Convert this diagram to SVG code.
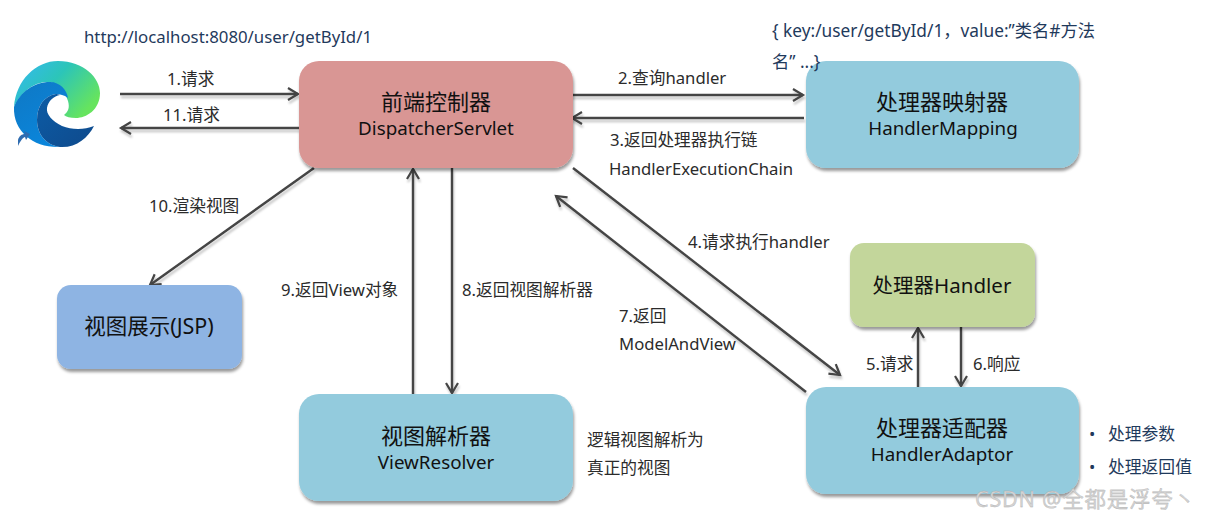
<svg xmlns="http://www.w3.org/2000/svg" width="1210" height="519" viewBox="0 0 1210 519">
<style>
text{font-family:"Noto Sans","Noto Sans CJK SC",sans-serif;fill:#222}
.l{font-size:16.7px;fill:#2b2b2b}
.blue{font-size:16.8px;fill:#1f3a5c}
.key{font-size:17.3px;fill:#1f3a5c}
.t{font-size:22px;text-anchor:middle;fill:#111}
.s{font-size:18.8px;text-anchor:middle;fill:#111}
.box{filter:url(#sh)}
.c{fill:none;stroke:#444;stroke-width:2.4;marker-end:url(#a);filter:url(#ls)}
</style>
<defs>
<filter id="sh" x="-10%" y="-10%" width="120%" height="125%"><feDropShadow dx="1" dy="3" stdDeviation="1.8" flood-color="#000" flood-opacity=".4"/></filter>
<filter id="ls" x="-20%" y="-20%" width="140%" height="140%" filterUnits="userSpaceOnUse" primitiveUnits="userSpaceOnUse"><feDropShadow dx="1" dy="3" stdDeviation="1.2" flood-color="#000" flood-opacity=".22"/></filter>
<marker id="a" markerUnits="userSpaceOnUse" markerWidth="14" markerHeight="16" refX="11" refY="7" orient="auto"><path d="M1 1L11 7L1 13" fill="none" stroke="#444" stroke-width="2.2"/></marker>
<linearGradient id="e1" x1="0" y1="0" x2="1" y2=".6"><stop offset="0" stop-color="#35b8f5"/><stop offset=".5" stop-color="#2cc5b8"/><stop offset="1" stop-color="#66e45e"/></linearGradient>
<linearGradient id="e2" x1="0" y1="0" x2=".6" y2="1"><stop offset="0" stop-color="#0f78c4"/><stop offset="1" stop-color="#0a86dc"/></linearGradient>
<linearGradient id="e3" x1="0" y1="0" x2="1" y2="1"><stop offset="0" stop-color="#0c5ca6"/><stop offset="1" stop-color="#0f4a8c"/></linearGradient>
</defs>
<g id="browser">
<path d="M14 107C16 80 36 61 58 61C84 61 100 78 100 93C100 110 86 118 76 118C70 118 66 117 64 115C68 112 70 108 68 101C65 92 58 82 48 82C32 82 20 94 14 107Z" fill="url(#e1)"/>
<path d="M14 107C20 92 34 82 50 82C60 82 67 90 68 98C64 95 60 94 56 94C44 96 37 106 37 120C37 134 46 145 60 147C34 148 13 132 14 107Z" fill="url(#e2)"/>
<path d="M56 94C44 96 37 106 37 120C37 134 46 145 60 147C76 148 88 138 94 126C84 130 72 130 62 126C52 121 46 114 47 108C48 101 54 96 60 95C58 94 57 94 56 94Z" fill="url(#e3)"/>
<path d="M18 146L18 140C19 136 22 134 25 134L24 131L30 134L26 140L25 137C22 138 20 142 18 146Z" fill="#2f6cb0"/>
</g>
<g id="connectors">
<path class="c" d="M120 94H298"/>
<path class="c" d="M299 128H121"/>
<path class="c" d="M571 95H803"/>
<path class="c" d="M804 118H572"/>
<path class="c" d="M314 168L150 285"/>
<path class="c" d="M413 394V169"/>
<path class="c" d="M452 168V393"/>
<path class="c" d="M573 168L840 375"/>
<path class="c" d="M806 392L556 196"/>
<path class="c" d="M918 387V328"/>
<path class="c" d="M961 327V386"/>
</g>
<g id="dispatcher"><rect class="box" x="299" y="61" width="274" height="107" rx="20" fill="#d99694"/><text class="t" x="436" y="110">前端控制器</text><text class="s" x="436" y="135">DispatcherServlet</text></g>
<g id="mapping"><rect class="box" x="806" y="61" width="273" height="107" rx="20" fill="#93cbdd"/><text class="t" x="942" y="110">处理器映射器</text><text class="s" x="943" y="135">HandlerMapping</text></g>
<g id="handler"><rect class="box" x="850" y="243" width="185" height="84" rx="14" fill="#c3d69b"/><text class="t" x="942" y="293" style="font-size:20.5px">处理器Handler</text></g>
<g id="adaptor"><rect class="box" x="806" y="387" width="273" height="107" rx="20" fill="#93cbdd"/><text class="t" x="942" y="436">处理器适配器</text><text class="s" x="942" y="461">HandlerAdaptor</text></g>
<g id="resolver"><rect class="box" x="299" y="394" width="274" height="107" rx="20" fill="#93cbdd"/><text class="t" x="436" y="444">视图解析器</text><text class="s" x="436" y="469">ViewResolver</text></g>
<g id="view"><rect class="box" x="57" y="285" width="185" height="84" rx="14" fill="#8eb4e3"/><text class="t" x="149" y="334" style="font-size:21.5px">视图展示(JSP)</text></g>
<g id="labels">
<text class="blue" x="84" y="43">http://localhost:8080/user/getById/1</text>
<text class="key" x="772" y="37">{ key:/user/getById/1，value:”类名#方法</text>
<text class="key" x="772" y="68">名” ...}</text>
<text class="l" x="167" y="85">1.请求</text>
<text class="l" x="163" y="121">11.请求</text>
<text class="l" x="618" y="84">2.查询handler</text>
<text class="l" x="610" y="146">3.返回处理器执行链</text>
<text class="l" x="609" y="175">HandlerExecutionChain</text>
<text class="l" x="149" y="212">10.渲染视图</text>
<text class="l" x="688" y="248">4.请求执行handler</text>
<text class="l" x="281" y="296">9.返回View对象</text>
<text class="l" x="462" y="296">8.返回视图解析器</text>
<text class="l" x="619" y="322">7.返回</text>
<text class="l" x="619" y="350">ModelAndView</text>
<text class="l" x="866" y="370">5.请求</text>
<text class="l" x="973" y="370">6.响应</text>
<text class="l" x="587" y="446">逻辑视图解析为</text>
<text class="l" x="587" y="474">真正的视图</text>
<text class="blue" x="1089" y="440">•</text><text class="blue" x="1108" y="440">处理参数</text>
<text class="blue" x="1089" y="473">•</text><text class="blue" x="1108" y="473">处理返回值</text>
<text x="975" y="507" style="font-size:21.5px;letter-spacing:.8px;fill:#d4d4d4;stroke:#aaa;stroke-width:.3">CSDN @全都是浮夸丶</text>
</g>
</svg>
